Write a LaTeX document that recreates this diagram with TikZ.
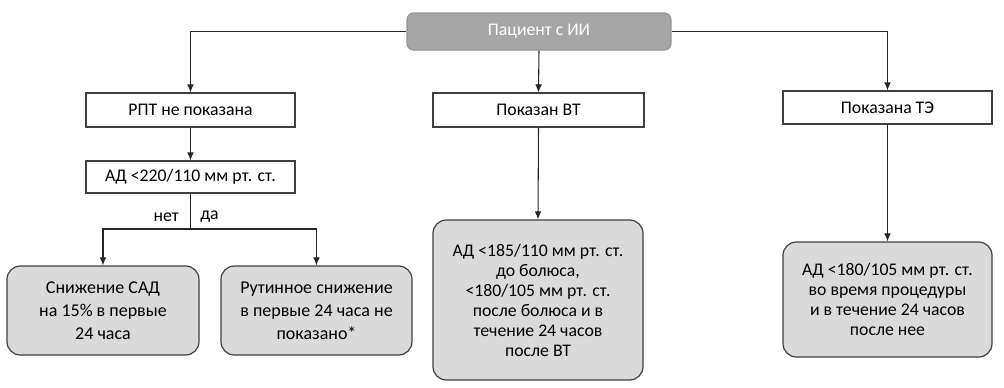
\documentclass[tikz,border=0pt]{standalone}
\usepackage{fontspec}
\setmainfont{Carlito}
\usetikzlibrary{arrows.meta}
\definecolor{edge}{HTML}{3F3F3F}
\definecolor{topfill}{HTML}{A6A6A6}
\definecolor{boxfill}{HTML}{DADADA}
\tikzset{
  base/.style={draw=edge, line width=0.9pt, align=center, inner sep=0pt,
    font=\fontsize{13.3}{15}\selectfont},
  topbox/.style={base, fill=topfill, draw=topfill!90!black, text=white, rounded corners=5pt},
  rectbox/.style={base, fill=white},
  endbox/.style={base, fill=boxfill, rounded corners=10pt},
  bigend/.style={endbox, font=\fontsize{13.5}{17.25}\selectfont},
  arr/.style={draw=black!85, line width=0.8pt, -{Latex[length=6pt,width=5pt]}},
  ln/.style={draw=black!85, line width=0.8pt},
  lab/.style={font=\fontsize{13.3}{15}\selectfont, inner sep=0pt}
}
\begin{document}
\begin{tikzpicture}[x=0.75pt,y=-0.75pt]
\useasboundingbox (0,0) rectangle (1004,387);
\node[topbox, minimum width=264*0.75pt, minimum height=37*0.75pt] (top) at (539,31.5) {Пациент с ИИ};
\node[rectbox, minimum width=209*0.75pt, minimum height=34*0.75pt] (l1) at (190.5,110) {РПТ не показана};
\node[rectbox, minimum width=211*0.75pt, minimum height=34*0.75pt] (m1) at (538.5,110) {Показан ВТ};
\node[rectbox, minimum width=209*0.75pt, minimum height=33*0.75pt] (r1) at (887.5,107.5) {Показана ТЭ};
\node[rectbox, minimum width=209*0.75pt, minimum height=32*0.75pt] (l2) at (190.5,177) {АД <220/110 мм рт. ст.};
\node[bigend, minimum width=192*0.75pt, minimum height=89*0.75pt] (bl1) at (103,310.5) {Снижение САД\\на 15\% в первые\\24 часа};
\node[bigend, minimum width=191*0.75pt, minimum height=89*0.75pt] (bl2) at (316.5,310.5) {Рутинное снижение\\в первые 24 часа не\\показано*};
\node[endbox, minimum width=210*0.75pt, minimum height=160*0.75pt] (bm) at (538,300) {АД <185/110 мм рт. ст.\\до болюса,\\<180/105 мм рт. ст.\\после болюса и в\\течение 24 часов\\после ВТ};
\node[endbox, minimum width=209*0.75pt, minimum height=115*0.75pt] (br) at (887.5,299.5) {АД <180/105 мм рт. ст.\\во время процедуры\\и в течение 24 часов\\после нее};
\draw[arr] (top.west) -| (l1.north);
\draw[arr] (top.east) -| (r1.north);
\draw[arr] (top.south) -- (m1.north);
\draw[arr] (l1.south) -- (l2.north);
\draw[arr] (m1.south) -- (bm.north);
\draw[arr] (r1.south) -- (br.north);
\coordinate (sp) at (190.5,229);
\draw[ln] (l2.south) -- (sp);
\draw[arr] (sp) -| (bl1.north);
\draw[arr] (sp) -| (bl2.north);
\node[lab, anchor=east] (no) at (179,217) {нет};
\node[lab, anchor=west] (yes) at (200,217) {да};
\end{tikzpicture}
\end{document}
